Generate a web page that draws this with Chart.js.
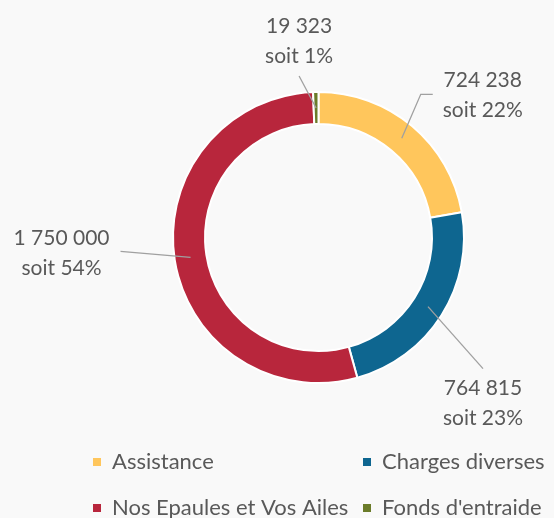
<!DOCTYPE html>
<html>
<head>
<meta charset="utf-8">
<script src="https://cdn.jsdelivr.net/npm/chart.js@4.4.1/dist/chart.umd.min.js"></script>
<style>
  html, body { margin: 0; padding: 0; background: #f9f9f9; }
  canvas { display: block; }
</style>
</head>
<body>
<canvas id="chart" width="554" height="518"></canvas>
<script>
// data
const categories = ["Assistance", "Charges diverses", "Nos Epaules et Vos Ailes", "Fonds d'entraide"];
const amounts = [724238, 764815, 1750000, 19323];
const colors = ["#ffc65c", "#0e6690", "#b8263c", "#6b7c2a"];

const TEXT = "#595959";
const FONT = "Lato, 'Open Sans', sans-serif";

// label placement, relative to each slice's centre point
const labelOffsets = [
  { dx: 81, dy: -43, leader: [[19, -44], [31, -44]] },
  { dx: 55, dy: 97, leader: [[55, 62]] },
  { dx: -129, dy: -4, leader: [[-70, -6]] },
  { dx: -17, dy: -67, leader: [[-17, -32]] }
];

// legend grid cells
const legendCells = [
  { x: 112, y: 462 }, { x: 382, y: 462 },
  { x: 112, y: 508 }, { x: 382, y: 508 }
];

function fmt(n) {
  return String(n).replace(/\B(?=(\d{3})+(?!\d))/g, " ");
}

const labelsPlugin = {
  id: "sliceLabels",
  afterDatasetsDraw(chart) {
    const ctx = chart.ctx;
    const meta = chart.getDatasetMeta(0);
    const total = amounts.reduce((a, b) => a + b, 0);
    ctx.save();
    meta.data.forEach((arc, i) => {
      const cp = arc.getCenterPoint();
      const o = labelOffsets[i];
      // leader line
      ctx.strokeStyle = "#a0a0a0";
      ctx.lineWidth = 1.3;
      ctx.beginPath();
      ctx.moveTo(cp.x, cp.y);
      o.leader.forEach(p => ctx.lineTo(cp.x + p[0], cp.y + p[1]));
      ctx.stroke();
      // text
      ctx.fillStyle = TEXT;
      ctx.font = "21px " + FONT;
      ctx.textAlign = "center";
      ctx.textBaseline = "middle";
      const pct = Math.round(amounts[i] / total * 100);
      ctx.fillText(fmt(amounts[i]), cp.x + o.dx, cp.y + o.dy - 15);
      ctx.fillText("soit " + pct + "%", cp.x + o.dx, cp.y + o.dy + 15);
    });
    ctx.restore();
  }
};

const legendPlugin = {
  id: "gridLegend",
  afterDraw(chart) {
    const ctx = chart.ctx;
    ctx.save();
    ctx.font = "22px " + FONT;
    ctx.textBaseline = "middle";
    ctx.textAlign = "left";
    categories.forEach((name, i) => {
      const c = legendCells[i];
      ctx.fillStyle = colors[i];
      ctx.fillRect(c.x - 19, c.y - 4, 8, 8);
      ctx.fillStyle = TEXT;
      ctx.fillText(name, c.x, c.y);
    });
    ctx.restore();
  }
};

new Chart(document.getElementById("chart"), {
  type: "doughnut",
  data: {
    labels: categories,
    datasets: [{
      data: amounts,
      backgroundColor: colors,
      borderColor: "#ffffff",
      borderWidth: 2
    }]
  },
  options: {
    responsive: false,
    animation: false,
    events: [],
    cutout: "78%",
    rotation: 0,
    layout: { padding: { top: 90, bottom: 133, left: 172, right: 89 } },
    plugins: {
      legend: { display: false },
      tooltip: { enabled: false }
    }
  },
  plugins: [labelsPlugin, legendPlugin]
});
</script>
</body>
</html>
